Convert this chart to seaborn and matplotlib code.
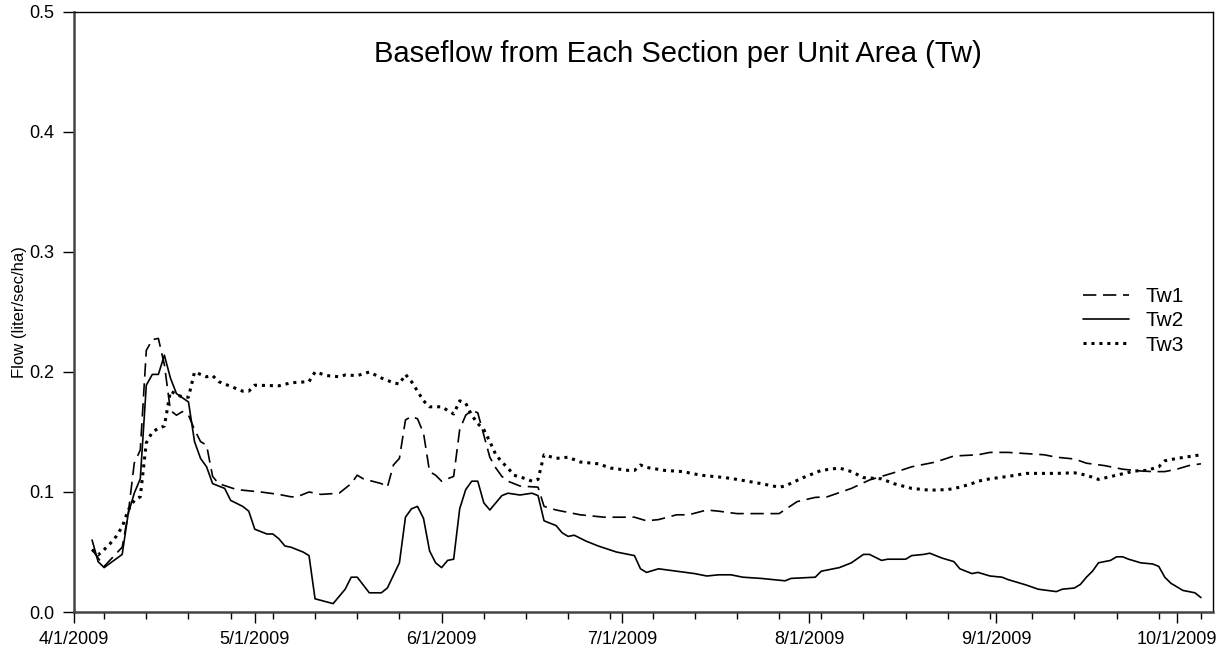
import pandas as pd
import seaborn as sns
import matplotlib.pyplot as plt
import matplotlib.dates as mdates
from matplotlib.ticker import MultipleLocator, FormatStrFormatter, FuncFormatter

# values, days counted from 4/1/2009
start = pd.Timestamp("2009-04-01")

tw1_days = [3, 5, 8, 9, 10, 11, 12, 13, 14, 15, 16, 17, 18, 19, 20, 21, 22, 23, 24, 27,
            31, 34, 36, 37, 39, 41, 44, 46, 47, 48, 51, 52, 53, 54, 55, 56, 57, 58, 59, 60,
            61, 63, 64, 65, 66, 67, 69, 70, 71, 72, 74, 77, 78, 80, 84, 88, 90, 93, 95, 97,
            100, 102, 105, 107, 110, 114, 117, 120, 123, 125, 129, 132, 136, 139, 143, 146,
            150, 152, 155, 158, 161, 163, 166, 168, 171, 174, 177, 179, 181, 183, 185, 187]
tw1 = [0.052, 0.038, 0.054, 0.082, 0.124, 0.135, 0.218, 0.227, 0.228, 0.206, 0.168, 0.164,
       0.167, 0.164, 0.152, 0.142, 0.139, 0.113, 0.107, 0.102, 0.100, 0.098, 0.096, 0.096,
       0.100, 0.098, 0.099, 0.107, 0.114, 0.111, 0.107, 0.104, 0.1225, 0.128, 0.160, 0.163,
       0.161, 0.149, 0.117, 0.114, 0.109, 0.113, 0.152, 0.164, 0.168, 0.166, 0.129, 0.120,
       0.113, 0.109, 0.105, 0.104, 0.088, 0.085, 0.081, 0.079, 0.079, 0.079, 0.076, 0.077,
       0.081, 0.081, 0.085, 0.084, 0.082, 0.082, 0.082, 0.092, 0.0955, 0.096, 0.103, 0.110,
       0.116, 0.121, 0.125, 0.130, 0.131, 0.133, 0.133, 0.132, 0.131, 0.129, 0.1275, 0.124,
       0.122, 0.119, 0.1175, 0.117, 0.117, 0.119, 0.122, 0.1235]

tw2_days = [3, 4, 5, 8, 9, 10, 11, 12, 13, 14, 15, 16, 17, 19, 20, 21, 22, 23, 25, 26,
            28, 29, 30, 32, 33, 34, 35, 36, 38, 39, 40, 43, 45, 46, 47, 49, 51, 52, 54, 55,
            56, 57, 58, 59, 60, 61, 62, 63, 64, 65, 66, 67, 68, 69, 71, 72, 74, 76, 77, 78,
            80, 81, 82, 83, 85, 87, 90, 92, 93, 94, 95, 97, 100, 103, 105, 107, 109, 111,
            114, 118, 119, 123, 124, 127, 129, 131, 132, 134, 135, 138, 139, 141, 142, 144,
            146, 147, 149, 150, 152, 154, 155, 158, 160, 163, 164, 166, 167, 168, 169, 170,
            172, 173, 174, 175, 177, 179, 180, 181, 182, 184, 186, 187]
tw2 = [0.060, 0.042, 0.037, 0.048, 0.082, 0.099, 0.111, 0.189, 0.198, 0.198, 0.214, 0.195,
       0.182, 0.175, 0.142, 0.128, 0.121, 0.107, 0.103, 0.093, 0.088, 0.084, 0.069, 0.065,
       0.065, 0.061, 0.055, 0.054, 0.050, 0.047, 0.011, 0.007, 0.019, 0.029, 0.029, 0.016,
       0.016, 0.020, 0.041, 0.079, 0.086, 0.088, 0.078, 0.051, 0.041, 0.037, 0.043, 0.044,
       0.086, 0.102, 0.109, 0.109, 0.091, 0.085, 0.097, 0.099, 0.0975, 0.099, 0.097, 0.076,
       0.072, 0.066, 0.063, 0.064, 0.059, 0.055, 0.050, 0.048, 0.047, 0.036, 0.033, 0.036,
       0.034, 0.032, 0.030, 0.031, 0.031, 0.029, 0.028, 0.026, 0.028, 0.029, 0.034, 0.037,
       0.041, 0.048, 0.048, 0.043, 0.044, 0.044, 0.047, 0.048, 0.049, 0.045, 0.042, 0.036,
       0.032, 0.033, 0.030, 0.029, 0.027, 0.0225, 0.019, 0.017, 0.019, 0.020, 0.023, 0.029,
       0.034, 0.041, 0.043, 0.046, 0.046, 0.044, 0.041, 0.040, 0.038, 0.029, 0.024, 0.018,
       0.016, 0.012]

tw3_days = [3, 4, 5, 6, 7, 8, 9, 10, 11, 12, 13, 14, 15, 16, 18, 19, 20, 22, 23, 24, 26,
            28, 29, 30, 34, 36, 39, 40, 42, 44, 45, 47, 49, 51, 53, 54, 55, 56, 57, 58, 59,
            61, 63, 64, 65, 66, 67, 68, 69, 70, 71, 72, 73, 75, 76, 77, 78, 80, 82, 84, 87,
            89, 92, 93, 94, 95, 98, 101, 104, 108, 110, 114, 117, 118, 121, 124, 127, 129,
            131, 134, 136, 139, 142, 145, 147, 149, 150, 152, 155, 158, 161, 163, 166, 168,
            170, 173, 176, 178, 180, 181, 183, 187]
tw3 = [0.052, 0.0475, 0.052, 0.057, 0.063, 0.071, 0.085, 0.093, 0.096, 0.141, 0.150, 0.153,
       0.155, 0.184, 0.179, 0.179, 0.200, 0.196, 0.197, 0.192, 0.188, 0.184, 0.184, 0.189,
       0.1885, 0.191, 0.192, 0.200, 0.197, 0.196, 0.1975, 0.197, 0.200, 0.195, 0.191, 0.190,
       0.198, 0.192, 0.184, 0.176, 0.171, 0.171, 0.165, 0.176, 0.174, 0.164, 0.157, 0.152,
       0.142, 0.131, 0.125, 0.120, 0.114, 0.111, 0.109, 0.1105, 0.131, 0.128, 0.129, 0.125,
       0.1235, 0.120, 0.118, 0.118, 0.1225, 0.1205, 0.118, 0.117, 0.114, 0.112, 0.1105,
       0.107, 0.104, 0.105, 0.112, 0.118, 0.120, 0.117, 0.112, 0.111, 0.107, 0.103, 0.1015,
       0.102, 0.104, 0.107, 0.109, 0.111, 0.113, 0.1155, 0.1155, 0.1155, 0.116, 0.114,
       0.1105, 0.114, 0.1175, 0.118, 0.121, 0.126, 0.128, 0.131]

labels = ["Tw1", "Tw2", "Tw3"]


def to_frame(days, vals):
    return pd.DataFrame({"date": start + pd.to_timedelta(days, unit="D"), "flow": vals})


sns.set_style("ticks")
plt.rcParams["font.family"] = ["Liberation Sans", "DejaVu Sans"]
plt.rcParams["text.color"] = "black"
plt.rcParams["axes.labelcolor"] = "black"

fig = plt.figure(figsize=(12.25, 6.51), dpi=100)
ax = fig.add_axes([0.0604, 0.0599, 0.9298, 0.9217])

sns.lineplot(data=to_frame(tw1_days, tw1), x="date", y="flow", ax=ax, color="black",
             linewidth=1.2, linestyle=(0, (8, 4)), label=labels[0])
sns.lineplot(data=to_frame(tw2_days, tw2), x="date", y="flow", ax=ax, color="black",
             linewidth=1.2, label=labels[1])
sns.lineplot(data=to_frame(tw3_days, tw3), x="date", y="flow", ax=ax, color="black",
             linewidth=2.2, linestyle=(0, (1, 1.6)), label=labels[2])

ax.set_xlim(pd.Timestamp("2009-04-01"), pd.Timestamp("2009-10-07"))
ax.set_ylim(0, 0.5)

ax.xaxis.set_major_locator(mdates.MonthLocator())
ax.xaxis.set_major_formatter(FuncFormatter(
    lambda v, pos: "{d.month}/{d.day}/{d.year}".format(d=mdates.num2date(v))))
ax.xaxis.set_minor_locator(mdates.WeekdayLocator(byweekday=mdates.MO))
ax.yaxis.set_major_locator(MultipleLocator(0.1))
ax.yaxis.set_major_formatter(FormatStrFormatter("%.1f"))

ax.tick_params(axis="both", which="major", direction="out", length=8, width=1,
               colors="black", labelsize=13, pad=6)
ax.tick_params(axis="x", which="minor", direction="out", length=5, width=1, colors="black")

for side in ["top", "right", "left", "bottom"]:
    ax.spines[side].set_visible(True)
    ax.spines[side].set_color("black")
    ax.spines[side].set_linewidth(1.0)
ax.spines["left"].set_linewidth(1.8)
ax.spines["bottom"].set_linewidth(1.8)
ax.spines["left"].set_color("#444444")
ax.spines["bottom"].set_color("#444444")

ax.set_xlabel("")
ax.set_ylabel("Flow (liter/sec/ha)", fontsize=12, labelpad=2, color="black")

ax.text(0.53, 0.93, "Baseflow from Each Section per Unit Area (Tw)", transform=ax.transAxes,
        ha="center", va="center", fontsize=21, color="black")

ax.legend(loc="center left", bbox_to_anchor=(0.886, 0.485), frameon=False, fontsize=15,
          handlelength=2.2, handletextpad=0.8, labelspacing=0.25, borderpad=0,
          borderaxespad=0, labelcolor="black")

fig.savefig("out.png", dpi=100)
